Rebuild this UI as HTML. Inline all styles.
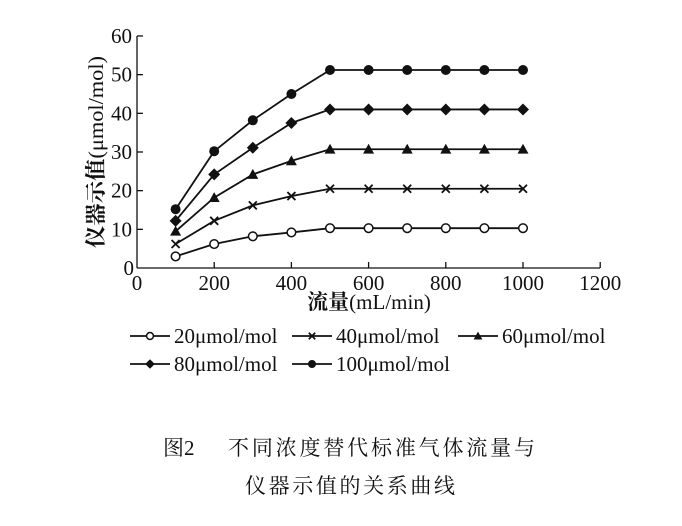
<!DOCTYPE html>
<html><head><meta charset="utf-8"><style>
body{margin:0;background:#fff;}
svg{display:block;}
text{font-family:"Liberation Serif","Noto Serif CJK SC",serif;fill:#111;}
</style></head><body>
<svg id="s" width="682" height="526" viewBox="0 0 682 526" xmlns="http://www.w3.org/2000/svg">
<g stroke="#111" stroke-width="1.3" fill="none">
<line x1="137" y1="36" x2="137" y2="268"/>
<line x1="137" y1="268" x2="600" y2="268"/>
</g>
<g id="ticks" stroke="#111" stroke-width="1.3"></g>
<g font-size="21" text-anchor="end" id="ylab"></g>
<g font-size="21" text-anchor="middle" id="xlab"></g>
<text x="0" y="0" font-size="21" text-anchor="middle" textLength="192" lengthAdjust="spacingAndGlyphs" transform="translate(103,152) rotate(-90)"><tspan font-weight="bold">仪器示值</tspan>(μmol/mol)</text>
<text x="369" y="309" font-size="21" text-anchor="middle"><tspan font-weight="bold">流量</tspan>(mL/min)</text>
<g id="series"></g>
<g id="legend" font-size="21"></g>
<text x="163" y="455" font-size="21">图2</text>
<text x="228" y="455" font-size="21" textLength="307">不同浓度替代标准气体流量与</text>
<text x="245" y="493" font-size="21" textLength="210">仪器示值的关系曲线</text>
</svg>
<script>
const NS="http://www.w3.org/2000/svg";
function el(p,t,a,txt){const e=document.createElementNS(NS,t);for(const k in a)e.setAttribute(k,a[k]);if(txt!=null)e.textContent=txt;document.getElementById(p).appendChild(e);return e;}
const X=v=>137+v*0.386, Y=v=>268-v*3.867;
for(let v=0;v<=60;v+=10){const y=Y(v);if(v>0)el("ticks","line",{x1:137,y1:y,x2:143,y2:y});el("ylab","text",{x:v==0?134:132,y:y+7},v);}
for(let v=0;v<=1200;v+=200){const x=X(v);if(v>0)el("ticks","line",{x1:x,y1:268,x2:x,y2:262});el("xlab","text",{x:x,y:290},v);}
const data=[
 ["o",[3,6.2,8.2,9.2,10.3]],
 ["x",[6.2,12.2,16.2,18.6,20.5]],
 ["t",[9.5,18.2,24.2,27.7,30.7]],
 ["d",[12.2,24.2,31.1,37.5,41]],
 ["c",[15.2,30.2,38.2,45,51.2]]];
function marker(p,m,x,y,s){
 s=s||1;
 if(m=="o")el(p,"circle",{cx:x,cy:y,r:4.3*s,fill:"#fff",stroke:"#111","stroke-width":1.5});
 if(m=="c")el(p,"circle",{cx:x,cy:y,r:5*s,fill:"#111"});
 if(m=="d"){const r=6*s;el(p,"polygon",{points:`${x},${y-r} ${x+r},${y} ${x},${y+r} ${x-r},${y}`,fill:"#111"});}
 if(m=="t"){const r=5.5*s;el(p,"polygon",{points:`${x},${y-r} ${x+r},${y+r*0.8} ${x-r},${y+r*0.8}`,fill:"#111"});}
 if(m=="x"){const r=4*s;el(p,"path",{d:`M${x-r} ${y-r}L${x+r} ${y+r}M${x-r} ${y+r}L${x+r} ${y-r}`,stroke:"#111","stroke-width":1.8});}
}
data.forEach(([m,v])=>{
 const vals=v.concat([v[4],v[4],v[4],v[4],v[4]]);
 const pts=vals.map((d,i)=>[X(100*(i+1)),Y(d)]);
 el("series","polyline",{points:pts.map(p=>p.join(",")).join(" "),fill:"none",stroke:"#111","stroke-width":1.8});
 pts.forEach(p=>marker("series",m,p[0],p[1]));
});
const leg=[["o","20μmol/mol",130,336],["x","40μmol/mol",292,336],["t","60μmol/mol",458,336],["d","80μmol/mol",130,364],["c","100μmol/mol",292,364]];
leg.forEach(([m,t,x,y])=>{
 el("legend","line",{x1:x,y1:y,x2:x+40,y2:y,stroke:"#111","stroke-width":1.8});
 marker("legend",m,x+20,y,0.8);
 el("legend","text",{x:x+44,y:y+7},t);
});
</script>
</body></html>
